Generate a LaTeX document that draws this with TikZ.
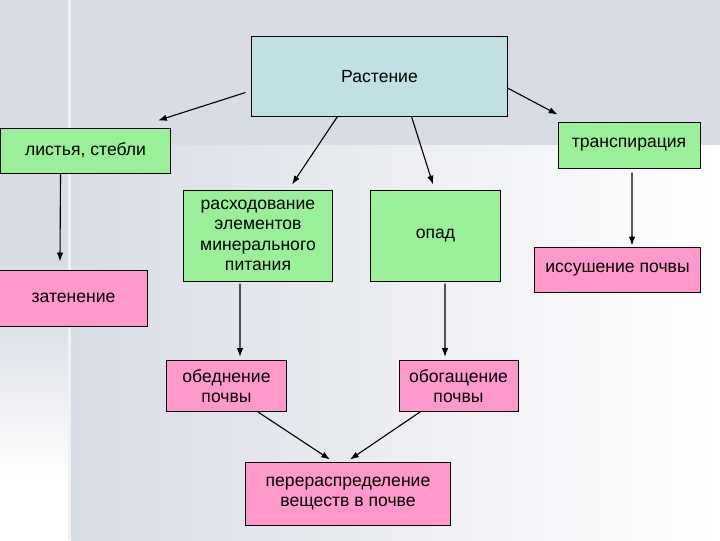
\documentclass[tikz,border=0pt]{standalone}
\usepackage{fontspec}
\setmainfont{Liberation Sans}
\usetikzlibrary{positioning,arrows.meta,calc}
\definecolor{bggray}{RGB}{216,220,229}
\definecolor{plantfill}{RGB}{193,224,227}
\definecolor{leafgreen}{RGB}{153,240,153}
\definecolor{soilpink}{RGB}{255,153,204}
\tikzset{
  flowarrow/.style={-{Latex[length=2.2mm,width=1.6mm]}, line width=0.8pt},
  plantbox/.style={draw, line width=0.7pt, fill=plantfill, align=center, inner sep=0pt},
  greenbox/.style={draw, line width=0.7pt, fill=leafgreen, align=center, inner sep=0pt},
  pinkbox/.style={draw, line width=0.7pt, fill=soilpink, align=center, inner sep=0pt}
}

\begin{document}
\begin{tikzpicture}[x=0.025cm, y=-0.025cm, every node/.style={font=\fontsize{12.5}{14.5}\selectfont}]
  \useasboundingbox (0,0) rectangle (720,540);
  % background
  \fill[bggray] (0,0) rectangle (720,540);
  \shade[top color=bggray, bottom color=white] (0,300) rectangle (68,480);
  \fill[white] (0,480) rectangle (68,540);
  \shade[left color=bggray, right color=white] (71,145) rectangle (720,540);
  \fill[white, opacity=0.6] (68,0) rectangle (71,540);

  % boxes
  \node[plantbox, minimum width=6.375cm, minimum height=1.975cm] (plant) at (379.5,76.5) {Растение};
  \node[greenbox, minimum width=4.25cm, minimum height=1.125cm] (leaf) at (85.5,150.5) {листья, стебли};
  \node[greenbox, minimum width=3.55cm, minimum height=1.15cm] (transp) at (629,145) {транспирация};
  \node[greenbox, minimum width=3.7cm, minimum height=2.275cm] (spend) at (258,235.5) {расходование\\элементов\\минерального\\питания};
  \node[greenbox, minimum width=3.225cm, minimum height=2.275cm] (litter) at (435.5,235.5) {опад};
  \node[pinkbox, minimum width=4.125cm, minimum height=1.125cm] (dry) at (617.5,269.5) {иссушение почвы};
  \node[pinkbox, minimum width=3.675cm, minimum height=1.4cm] (shade) at (73.5,298) {затенение};
  \node[pinkbox, minimum width=2.975cm, minimum height=1.275cm, anchor=north] (poor) at (226.5,360) {обеднение\\почвы};
  \node[pinkbox, minimum width=2.975cm, minimum height=1.275cm, anchor=north] (rich) at (458.5,360) {обогащение\\почвы};
  \node[pinkbox, minimum width=5.1cm, minimum height=1.575cm] (redist) at (348,493.5) {перераспределение\\веществ в почве};

  % arrows
  \draw[flowarrow] ($(plant.west)+(-6,16)$) -- ($(leaf.north east)+(-13,-7)$);
  \draw[flowarrow] ($(plant.east)+(0,11.5)$) -- ($(transp.north west)+(0,-7)$);
  \draw[flowarrow] ($(plant.south)+(-42,0)$) -- ($(spend.north)+(34,-5)$);
  \draw[flowarrow] ($(plant.south)+(32,0)$) -- ($(litter.north)+(-2.5,-5)$);
  \draw[flowarrow] ($(leaf.south)+(-25,0)$) -- ($(shade.north)+(-13.5,-8)$);
  \draw[flowarrow] ($(transp.south)+(3,4)$) -- ($(dry.north)+(14.5,-1)$);
  \draw[flowarrow] ($(spend.south)+(-18,2)$) -- ($(poor.north)+(13.5,-3)$);
  \draw[flowarrow] ($(litter.south)+(9.5,2)$) -- ($(rich.north)+(-13.5,-3)$);
  \draw[flowarrow] ($(poor.south)+(31.5,0)$) -- ($(redist.north)+(-18,-2)$);
  \draw[flowarrow] ($(rich.south)+(-38.5,0)$) -- ($(redist.north)+(2,-2)$);
\end{tikzpicture}
\end{document}
